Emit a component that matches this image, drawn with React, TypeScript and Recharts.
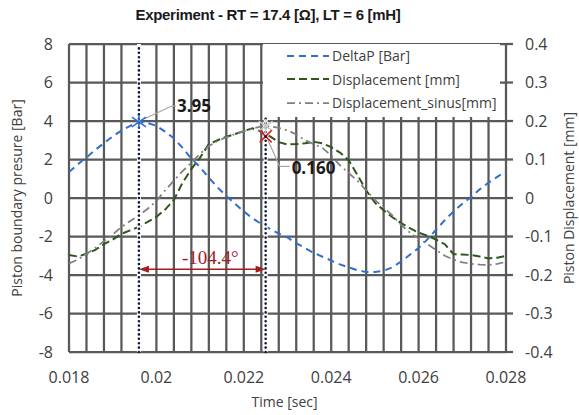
import React from "react";
import {
  ComposedChart,
  Line,
  XAxis,
  YAxis,
  CartesianGrid,
  ReferenceLine,
  ReferenceDot,
  Legend,
  Label,
} from "recharts";

// ---- data ----
const TIME = [
  0.018, 0.0182, 0.0184, 0.0186, 0.0188, 0.019, 0.0192, 0.0194, 0.0196, 0.0198,
  0.02, 0.0202, 0.0204, 0.0206, 0.0208, 0.021, 0.0212, 0.0214, 0.0216, 0.0218,
  0.022, 0.0222, 0.0224, 0.0226, 0.0228, 0.023, 0.0232, 0.0234, 0.0236, 0.0238,
  0.024, 0.0242, 0.0244, 0.0246, 0.0248, 0.025, 0.0252, 0.0254, 0.0256, 0.0258,
  0.026, 0.0262, 0.0264, 0.0266, 0.0268, 0.027, 0.0272, 0.0274, 0.0276, 0.0278,
  0.028,
];

const DELTAP = [
  1.35, 1.75, 2.1, 2.5, 2.85, 3.2, 3.5, 3.75, 3.95, 3.9,
  3.75, 3.45, 3.1, 2.6, 2.05, 1.6, 1.05, 0.55, 0.1, -0.3,
  -0.7, -1.05, -1.35, -1.6, -1.85, -2.05, -2.35, -2.6, -2.85, -3.05,
  -3.25, -3.45, -3.6, -3.75, -3.85, -3.85, -3.78, -3.6, -3.3, -2.95,
  -2.6, -2.15, -1.65, -1.15, -0.7, -0.3, 0.05, 0.45, 0.8, 1.1,
  1.4,
];

const DISPLACEMENT = [
  -0.148, -0.152, -0.145, -0.135, -0.12, -0.108, -0.093, -0.084, -0.075, -0.062,
  -0.049, -0.03, -0.005, 0.04, 0.075, 0.105, 0.14, 0.15, 0.159, 0.166,
  0.174, 0.181, 0.172, 0.16, 0.145, 0.139, 0.14, 0.142, 0.146, 0.142,
  0.132, 0.118, 0.098, 0.06, 0.02, -0.012, -0.032, -0.05, -0.065, -0.078,
  -0.09, -0.098, -0.108, -0.12, -0.146, -0.147, -0.148, -0.152, -0.157, -0.155,
  -0.15,
];

const DISPLACEMENT_SINUS = [
  -0.17, -0.16, -0.145, -0.13, -0.112, -0.095, -0.075, -0.06, -0.045, -0.028,
  -0.008, 0.02, 0.045, 0.07, 0.092, 0.115, 0.135, 0.148, 0.158, 0.166,
  0.173, 0.18, 0.186, 0.186, 0.182, 0.176, 0.165, 0.15, 0.14, 0.13,
  0.11, 0.085, 0.065, 0.045, 0.02, -0.005, -0.025, -0.045, -0.07, -0.09,
  -0.105, -0.12, -0.135, -0.15, -0.16, -0.167, -0.171, -0.173, -0.174, -0.171,
  -0.166,
];

const X_TICKS = [0.018, 0.02, 0.022, 0.024, 0.026, 0.028];
const X_GRID = [
  0.018, 0.0184, 0.0188, 0.0192, 0.0196, 0.02, 0.0204, 0.0208, 0.0212, 0.0216,
  0.022, 0.0224, 0.0228, 0.0232, 0.0236, 0.024, 0.0244, 0.0248, 0.0252, 0.0256,
  0.026, 0.0264, 0.0268, 0.0272, 0.0276, 0.028,
];
const X_DOMAIN = [0.018, 0.028];
const LEFT_TICKS = [-8, -6, -4, -2, 0, 2, 4, 6, 8];
const RIGHT_TICKS = [-0.4, -0.3, -0.2, -0.1, 0, 0.1, 0.2, 0.3, 0.4];

const PEAK_P_T = 0.0196;
const PEAK_P_V = 3.95;
const PEAK_D_T = 0.0225;
const PEAK_D_V = 0.16;
const PEAK_S_V = 0.187;
const PHASE_TEXT = "-104.4°";
const ARROW_LEVEL = -3.7;

const TITLE = "Experiment - RT = 17.4 [Ω], LT = 6 [mH]";

const SERIES = [
  { key: "p", name: "DeltaP [Bar]", axis: "left", color: "#2f6fcf", dash: "7 5", width: 2 },
  { key: "d", name: "Displacement [mm]", axis: "right", color: "#2f561c", dash: "8 4", width: 2 },
  { key: "s", name: "Displacement_sinus[mm]", axis: "right", color: "#808080", dash: "8 4 2 4", width: 1.75 },
];

const rows = TIME.map((t, i) => ({
  t,
  p: DELTAP[i],
  d: DISPLACEMENT[i],
  s: DISPLACEMENT_SINUS[i],
}));

const FONT = "'Open Sans', 'Liberation Sans', sans-serif";
const GRID = "#595959";

const fmtX = (v: number) => String(Number(v.toFixed(3)));
const fmtR = (v: number) => (Math.abs(v) < 1e-9 ? "0" : v.toFixed(1));

const verticalGen = (props: any) => {
  const { xAxis, offset } = props;
  const sc = xAxis && xAxis.scale;
  if (typeof sc === "function") {
    return X_GRID.map((v) => sc(v));
  }
  return X_GRID.map(
    (v) => offset.left + ((v - X_DOMAIN[0]) / (X_DOMAIN[1] - X_DOMAIN[0])) * offset.width
  );
};

const PeakPShape = (props: any) => {
  const { cx, cy } = props;
  const r = 7;
  return (
    <g>
      <line x1={cx + 5} y1={cy - 3} x2={cx + 33} y2={cy - 16} stroke="#a6a6a6" strokeWidth={1.2} />
      <line x1={cx + 33} y1={cy - 16} x2={cx + 37} y2={cy - 16} stroke="#a6a6a6" strokeWidth={1.2} />
      <g stroke="#2f6fcf" strokeWidth={1.5}>
        <line x1={cx - r} y1={cy - r * 0.7} x2={cx + r} y2={cy + r * 0.7} />
        <line x1={cx - r} y1={cy + r * 0.7} x2={cx + r} y2={cy - r * 0.7} />
        <line x1={cx} y1={cy - r} x2={cx} y2={cy + r} />
      </g>
      <text x={cx + 38} y={cy - 16} dominantBaseline="central" fontFamily={FONT} fontWeight={700} fontSize={17} fill="#1a1a1a">
        {PEAK_P_V.toFixed(2)}
      </text>
    </g>
  );
};

const PeakSShape = (props: any) => {
  const { cx, cy } = props;
  const r = 7;
  return (
    <g stroke="#c8c8c8" strokeWidth={1.5}>
      <line x1={cx - r} y1={cy - r * 0.7} x2={cx + r} y2={cy + r * 0.7} />
      <line x1={cx - r} y1={cy + r * 0.7} x2={cx + r} y2={cy - r * 0.7} />
      <line x1={cx} y1={cy - r} x2={cx} y2={cy + r} />
    </g>
  );
};

const PeakDShape = (props: any) => {
  const { cx, cy } = props;
  const r = 6;
  return (
    <g>
      <line x1={cx + 2} y1={cy + 3} x2={cx + 14} y2={cy + 30} stroke="#a6a6a6" strokeWidth={1.2} />
      <line x1={cx + 14} y1={cy + 30} x2={cx + 24} y2={cy + 30} stroke="#a6a6a6" strokeWidth={1.2} />
      <g stroke="#e02020" strokeWidth={1.5}>
        <line x1={cx - r} y1={cy - r} x2={cx + r} y2={cy + r} />
        <line x1={cx - r} y1={cy + r} x2={cx + r} y2={cy - r} />
      </g>
      <circle cx={cx} cy={cy} r={1.5} fill="#3a1010" />
      <text x={cx + 26} y={cy + 31} dominantBaseline="central" fontFamily={FONT} fontWeight={700} fontSize={17} fill="#1a1a1a">
        {PEAK_D_V.toFixed(3)}
      </text>
    </g>
  );
};

const ArrowShape = (props: any) => {
  const { x1, y1, x2, y2 } = props;
  const c = "#a51c1c";
  const h = 10;
  const w = 3.5;
  return (
    <g>
      <line x1={x1 + h - 1} y1={y1} x2={x2 - h + 1} y2={y2} stroke={c} strokeWidth={1.6} />
      <polygon points={`${x1},${y1} ${x1 + h},${y1 - w} ${x1 + h},${y1 + w}`} fill={c} />
      <polygon points={`${x2},${y2} ${x2 - h},${y2 - w} ${x2 - h},${y2 + w}`} fill={c} />
      <text
        x={(x1 + x2) / 2 + 8}
        y={y1 - 12}
        textAnchor="middle"
        dominantBaseline="central"
        fontFamily="'Liberation Serif', 'DejaVu Serif', serif"
        fontSize={19}
        fill={c}
      >
        {PHASE_TEXT}
      </text>
    </g>
  );
};

const LegendContent = () => (
  <div style={{ fontFamily: FONT, fontSize: 14, color: "#404040" }}>
    {SERIES.map((s) => (
      <div key={s.key} style={{ display: "flex", alignItems: "center", height: 23.5, paddingLeft: 24 }}>
        <svg width={42} height={6} style={{ marginRight: 3 }}>
          <line x1={0} y1={3} x2={42} y2={3} stroke={s.color} strokeWidth={s.width} strokeDasharray={s.dash} />
        </svg>
        <span style={{ whiteSpace: "nowrap" }}>{s.name}</span>
      </div>
    ))}
  </div>
);

export default function App() {
  return (
    <div style={{ position: "absolute", left: 0, top: 0, width: 579, height: 415, background: "#fff" }}>
      <div
        style={{
          position: "absolute",
          left: 0,
          top: 6,
          width: 536,
          textAlign: "center",
          fontFamily: "'Liberation Sans', Arial, sans-serif",
          fontWeight: 700,
          fontSize: 15,
          lineHeight: "18px",
          letterSpacing: -0.3,
          color: "#1a1a1a",
          zIndex: 2,
        }}
      >
        {TITLE}
      </div>
      <ComposedChart
        width={579}
        height={415}
        data={rows}
        margin={{ top: 44, right: 0, bottom: 0, left: 0 }}
      >
        <CartesianGrid
          xAxisId="x"
          yAxisId="left"
          horizontalValues={LEFT_TICKS}
          verticalCoordinatesGenerator={verticalGen}
          stroke={GRID}
          strokeWidth={2.25}
          strokeOpacity={1}
        />
        <XAxis
          xAxisId="x"
          dataKey="t"
          type="number"
          domain={X_DOMAIN}
          ticks={X_TICKS}
          tickFormatter={fmtX}
          allowDataOverflow
          axisLine={false}
          tickLine={false}
          tickSize={0}
          tickMargin={20}
          height={63}
          tick={{ fontFamily: FONT, fontSize: 16, fill: "#404040" }}
        >
          <Label value="Time [sec]" position="center" dx={-3} dy={19} style={{ fontFamily: FONT, fontSize: 14, fill: "#404040" }} />
        </XAxis>
        <YAxis
          yAxisId="left"
          orientation="left"
          type="number"
          domain={[-8, 8]}
          ticks={LEFT_TICKS}
          allowDataOverflow
          axisLine={false}
          tickLine={false}
          tickSize={0}
          tickMargin={16}
          width={69}
          tick={{ fontFamily: FONT, fontSize: 16, fill: "#404040" }}
        >
          <Label
            value="Piston boundary presure [Bar]"
            angle={-90}
            position="center"
            dx={-17}
            style={{ fontFamily: FONT, fontSize: 14, fill: "#404040", textAnchor: "middle" }}
          />
        </YAxis>
        <YAxis
          yAxisId="right"
          orientation="right"
          type="number"
          domain={[-0.4, 0.4]}
          ticks={RIGHT_TICKS}
          tickFormatter={fmtR}
          allowDataOverflow
          axisLine={false}
          tickLine={{ stroke: GRID, strokeWidth: 2.25 }}
          tickSize={7}
          tickMargin={12}
          width={73}
          tick={{ fontFamily: FONT, fontSize: 16, fill: "#404040" }}
        >
          <Label
            value="Piston Displacement [mm]"
            angle={-90}
            position="center"
            dx={27}
            style={{ fontFamily: FONT, fontSize: 14, fill: "#404040", textAnchor: "middle" }}
          />
        </YAxis>

        {SERIES.map((s) => (
          <Line
            key={s.key}
            xAxisId="x"
            yAxisId={s.axis}
            dataKey={s.key}
            name={s.name}
            type="linear"
            stroke={s.color}
            strokeWidth={s.width}
            strokeDasharray={s.dash}
            dot={false}
            activeDot={false}
            isAnimationActive={false}
          />
        ))}

        <ReferenceLine xAxisId="x" yAxisId="left" x={PEAK_P_T} stroke="#ffffff" strokeWidth={4} />
        <ReferenceLine xAxisId="x" yAxisId="left" x={PEAK_D_T} stroke="#ffffff" strokeWidth={4} />
        <ReferenceLine
          xAxisId="x"
          yAxisId="left"
          x={PEAK_P_T}
          stroke="#0e1a3c"
          strokeWidth={2.6}
          strokeDasharray="0 4.4"
          strokeLinecap="round"
        />
        <ReferenceLine
          xAxisId="x"
          yAxisId="left"
          x={PEAK_D_T}
          stroke="#0e1a3c"
          strokeWidth={2.6}
          strokeDasharray="0 4.4"
          strokeLinecap="round"
        />
        <ReferenceLine
          xAxisId="x"
          yAxisId="left"
          segment={[
            { x: PEAK_P_T, y: ARROW_LEVEL },
            { x: PEAK_D_T, y: ARROW_LEVEL },
          ]}
          shape={ArrowShape}
        />
        <ReferenceDot xAxisId="x" yAxisId="right" x={PEAK_D_T} y={PEAK_S_V} r={7} shape={PeakSShape} />
        <ReferenceDot xAxisId="x" yAxisId="left" x={PEAK_P_T} y={PEAK_P_V} r={7} shape={PeakPShape} />
        <ReferenceDot xAxisId="x" yAxisId="right" x={PEAK_D_T} y={PEAK_D_V} r={6} shape={PeakDShape} />

        <Legend
          layout="horizontal"
          verticalAlign="middle"
          align="center"
          content={LegendContent}
          wrapperStyle={{ left: 263, top: 44, width: 237, height: 73, background: "#ffffff", margin: 0 }}
        />
      </ComposedChart>
    </div>
  );
}
